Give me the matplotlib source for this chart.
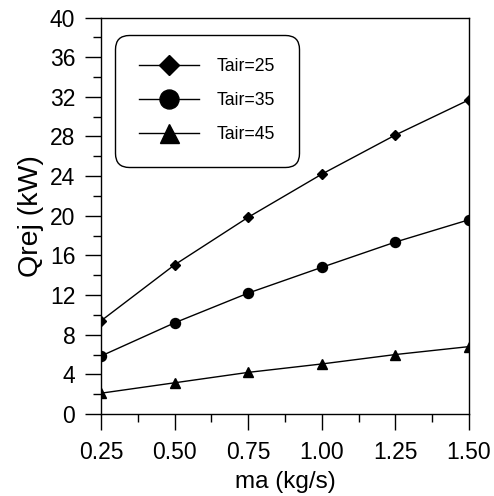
import matplotlib
matplotlib.use('Agg')
import matplotlib.pyplot as plt
from matplotlib.ticker import MultipleLocator, FormatStrFormatter

plt.rcParams['font.family'] = ['Liberation Sans', 'DejaVu Sans']

# air mass flow rate (kg/s) and heat rejection (kW) for each air temperature
ma = [0.25, 0.50, 0.75, 1.00, 1.25, 1.50]
q_tair25 = [9.4, 15.05, 19.85, 24.2, 28.15, 31.7]
q_tair35 = [5.85, 9.2, 12.2, 14.8, 17.35, 19.6]
q_tair45 = [2.1, 3.15, 4.2, 5.05, 6.0, 6.8]
labels = ['Tair=25', 'Tair=35', 'Tair=45']

fig = plt.figure(figsize=(4.94, 4.96), dpi=100)
ax = fig.add_axes([0.2045, 0.1653, 0.745, 0.7994])

ax.plot(ma, q_tair25, 'k-', marker='D', markersize=5.5, linewidth=1.0, label=labels[0])
ax.plot(ma, q_tair35, 'k-', marker='o', markersize=7.2, linewidth=1.0, label=labels[1])
ax.plot(ma, q_tair45, 'k-', marker='^', markersize=7.2, linewidth=1.0, label=labels[2])

ax.set_xlim(0.25, 1.50)
ax.set_ylim(0, 40)
ax.xaxis.set_major_locator(MultipleLocator(0.25))
ax.xaxis.set_minor_locator(MultipleLocator(0.125))
ax.xaxis.set_major_formatter(FormatStrFormatter('%.2f'))
ax.yaxis.set_major_locator(MultipleLocator(4))
ax.yaxis.set_minor_locator(MultipleLocator(2))

ax.tick_params(which='major', direction='out', length=11.5, width=1.0, labelsize=16.5)
ax.tick_params(which='minor', direction='out', length=6, width=1.0)
ax.tick_params(axis='x', which='major', pad=8)
ax.tick_params(axis='y', which='major', pad=7)
for s in ax.spines.values():
    s.set_linewidth(1.0)

ax.set_xlabel('ma (kg/s)', fontsize=17.5, labelpad=5)
ax.set_ylabel('Qrej (kW)', fontsize=20.5, labelpad=4)

leg = ax.legend(loc='upper left', bbox_to_anchor=(0.038, 0.957), borderaxespad=0,
                fontsize=12.7, markerscale=1.9, handlelength=3.4, handletextpad=1.03,
                labelspacing=0.95, borderpad=1.35, frameon=True, fancybox=True)
frame = leg.get_frame()
frame.set_edgecolor('black')
frame.set_linewidth(1.0)
frame.set_alpha(1)
frame.set_boxstyle('round', pad=0, rounding_size=0.8)

fig.savefig('out.png', dpi=100)
